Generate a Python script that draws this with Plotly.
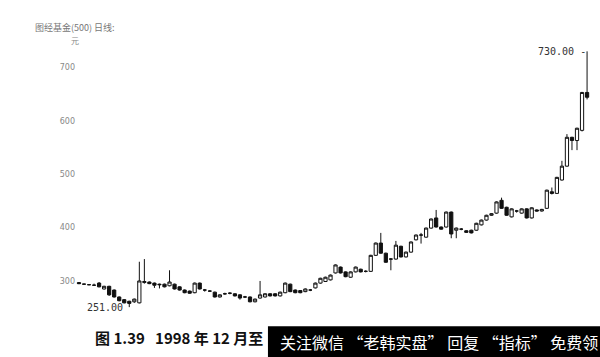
import plotly.graph_objects as go

# OHLC values (daily candles, left to right)
opens = [297, 294, 293, 292, 296, 285, 290, 283, 270, 265, 262, 261, 259, 297, 298, 296, 294, 294, 291, 294,
         289, 283, 281, 278, 296, 283, 281, 279, 270, 276, 277, 276, 274, 270, 270, 261, 268, 270, 276, 276,
         272, 278, 294, 283, 282, 280, 283, 287, 296, 299, 302, 315, 326, 317, 307, 317, 322, 318, 318, 348,
         371, 352, 341, 341, 365, 345, 354, 377, 386, 382, 399, 418, 401, 401, 429, 395, 397, 394, 395, 395,
         405, 414, 423, 427, 451, 438, 420, 431, 427, 435, 418, 433, 431, 436, 467, 464, 489, 515, 569, 563,
         582, 653]
highs = [298, 295, 294, 295, 298, 291, 291, 284, 271, 266, 263, 267, 336, 341, 299, 297, 295, 295, 320, 295,
         290, 284, 282, 297, 297, 285, 283, 280, 275, 278, 279, 277, 275, 272, 271, 267, 300, 277, 277, 277,
         280, 297, 295, 284, 283, 286, 285, 297, 306, 308, 312, 331, 327, 318, 318, 327, 323, 320, 349, 372,
         390, 353, 343, 375, 366, 355, 374, 387, 390, 400, 417, 433, 402, 430, 430, 400, 399, 395, 396, 409,
         415, 424, 427, 449, 456, 439, 436, 433, 436, 436, 438, 434, 435, 471, 475, 495, 525, 575, 570, 587,
         654, 730]
lows = [294, 293, 292, 291, 288, 284, 272, 269, 262, 258, 251, 259, 258, 295, 294, 287, 286, 288, 290, 284,
        282, 277, 276, 277, 284, 280, 280, 269, 269, 274, 275, 271, 265, 268, 260, 260, 267, 269, 271, 271,
        271, 277, 279, 277, 277, 279, 281, 286, 295, 298, 301, 314, 314, 307, 306, 316, 316, 316, 317, 347,
        351, 334, 320, 340, 344, 344, 353, 376, 370, 381, 398, 400, 396, 400, 380, 380, 395, 390, 389, 394,
        404, 413, 422, 426, 435, 422, 419, 428, 426, 417, 417, 430, 430, 435, 462, 463, 488, 514, 545, 545,
        580, 640]
closes = [295, 294, 293, 292, 289, 290, 274, 270, 263, 259, 258, 266, 300, 299, 295, 292, 293, 289, 298, 285,
          283, 278, 277, 296, 285, 283, 281, 270, 274, 276, 277, 272, 268, 270, 261, 266, 274, 276, 272, 272,
          279, 296, 280, 278, 278, 285, 283, 296, 305, 307, 311, 330, 315, 308, 317, 326, 317, 318, 348, 371,
          352, 335, 341, 367, 345, 354, 373, 386, 386, 399, 416, 401, 397, 429, 388, 399, 397, 391, 390, 408,
          414, 423, 426, 448, 436, 423, 435, 431, 435, 418, 437, 431, 434, 470, 464, 494, 515, 569, 563, 586,
          653, 644]
x_idx = list(range(len(opens)))

tick_vals = [300, 400, 500, 600, 700]
tick_text = ["300", "400", "500", "600", "700"]

low_label = "251.00"
high_label = "730.00 -"
title_text = "图经基金(500) 日线:"
unit_text = "元"
caption_left = "图 1.39   1998 年 12 月至"
caption_box = "关注微信 “老韩实盘” 回复 “指标” 免费领"

fig = go.Figure()
fig.add_trace(go.Candlestick(
    x=x_idx, open=opens, high=highs, low=lows, close=closes,
    increasing=dict(line=dict(color="#111111", width=1), fillcolor="#ffffff"),
    decreasing=dict(line=dict(color="#111111", width=1), fillcolor="#111111"),
    whiskerwidth=0,
    showlegend=False,
    hoverinfo="skip",
))

lo_i = lows.index(min(lows))
hi_i = highs.index(max(highs))

annotations = [
    dict(x=lo_i, y=lows[lo_i], text=low_label, showarrow=False, xanchor="right", yanchor="middle",
         xshift=-4, font=dict(family="DejaVu Sans Mono", size=10, color="#333333")),
    dict(x=hi_i, y=highs[hi_i], text=high_label, showarrow=False, xanchor="right", yanchor="middle",
         xshift=1, font=dict(family="DejaVu Sans Mono", size=10, color="#333333")),
    dict(xref="paper", yref="paper", x=-0.083, y=1.071, text=title_text, showarrow=False,
         xanchor="left", yanchor="middle", font=dict(family="Noto Sans CJK SC", size=9, color="#777777")),
    dict(xref="paper", yref="paper", x=-0.002, y=1.022, text=unit_text, showarrow=False,
         xanchor="center", yanchor="middle", font=dict(family="Noto Sans CJK SC", size=8, color="#888888")),
    dict(xref="paper", yref="paper", x=0.033, y=-0.09, text="<b>" + caption_left + "</b>", showarrow=False,
         xanchor="left", yanchor="middle", font=dict(family="Noto Sans CJK SC", size=15, color="#111111")),
    dict(xref="paper", yref="paper", x=0.391, y=-0.108, text=caption_box, showarrow=False,
         xanchor="left", yanchor="middle", font=dict(family="Noto Sans CJK SC", size=16, color="#ffffff")),
]

shapes = [
    dict(type="rect", xref="paper", yref="paper", x0=0.372, x1=1.02, y0=-0.05, y1=-0.17,
         fillcolor="#000000", line=dict(width=0), layer="above"),
]

fig.update_layout(
    width=600, height=357,
    margin=dict(l=76, r=8, t=46, b=44),
    paper_bgcolor="#ffffff", plot_bgcolor="#ffffff",
    boxgap=0.2, boxgroupgap=0.2,
    xaxis=dict(range=[-0.59, len(opens) - 1 + 0.98], visible=False, rangeslider=dict(visible=False),
               showgrid=False, zeroline=False),
    yaxis=dict(range=[240, 740], tickvals=tick_vals, ticktext=tick_text, showgrid=False, zeroline=False,
               showline=False, ticks="", tickfont=dict(family="DejaVu Sans", size=8, color="#888888")),
    annotations=annotations,
    shapes=shapes,
)

fig.write_html("out.html")
